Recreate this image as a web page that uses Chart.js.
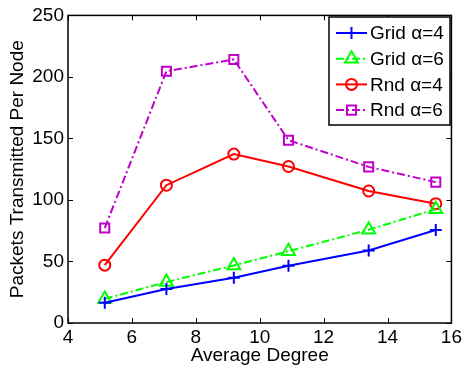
<!DOCTYPE html>
<html>
<head>
<meta charset="utf-8">
<script src="https://cdn.jsdelivr.net/npm/chart.js@4/dist/chart.umd.min.js"></script>
<style>
  html, body { margin: 0; padding: 0; background: #fff; }
  #wrap { width: 465px; height: 370px; }
</style>
</head>
<body>
<div id="wrap"><canvas id="c"></canvas></div>
<script>
// values
const avgDegree = [5.15, 7.08, 9.19, 10.9, 13.41, 15.51];
const gridA4 = [16.4, 27.7, 36.8, 46.5, 58.9, 75.6];
const gridA6 = [19.6, 33.3, 46.8, 58.3, 75.8, 92.5];
const rndA4 = [47, 112, 137.3, 127.2, 107.3, 97];
const rndA6 = [77.2, 204.6, 214.2, 148.6, 126.9, 114.5];
const seriesLabels = ["Grid \u03b1=4", "Grid \u03b1=6", "Rnd \u03b1=4", "Rnd \u03b1=6"];
const xTicks = [4, 6, 8, 10, 12, 14, 16];
const yTicks = [0, 50, 100, 150, 200, 250];

const FONT = "'Liberation Sans', Arial, sans-serif";
const FS = 19;
const DASHDOT = [8, 3, 2, 3];

const toPts = (ys) => ys.map((y, i) => ({ x: avgDegree[i], y }));

function ds(label, ys, color, style, radius, dash) {
  return {
    label,
    data: toPts(ys),
    borderColor: color,
    borderWidth: 2,
    borderDash: dash,
    pointStyle: style,
    pointRadius: radius,
    pointBorderColor: color,
    pointBackgroundColor: "rgba(0,0,0,0)",
    pointBorderWidth: 2,
    tension: 0,
    fill: false,
  };
}

// MATLAB-style box, inward ticks and the legend inside the axes
const matlabFrame = {
  id: "matlabFrame",
  afterDatasetsDraw(chart) {
    const { ctx, chartArea: a, scales } = chart;
    ctx.save();
    ctx.strokeStyle = "#000";
    ctx.lineWidth = 1.5;
    ctx.setLineDash([]);
    ctx.strokeRect(a.left, a.top, a.right - a.left, a.bottom - a.top);

    ctx.lineWidth = 1;
    ctx.beginPath();
    for (const t of xTicks) {
      const x = Math.round(scales.x.getPixelForValue(t)) + 0.5;
      ctx.moveTo(x, a.bottom); ctx.lineTo(x, a.bottom - 5);
      ctx.moveTo(x, a.top); ctx.lineTo(x, a.top + 5);
    }
    for (const t of yTicks) {
      const y = Math.round(scales.y.getPixelForValue(t)) + 0.5;
      ctx.moveTo(a.left, y); ctx.lineTo(a.left + 5, y);
      ctx.moveTo(a.right, y); ctx.lineTo(a.right - 5, y);
    }
    ctx.stroke();

    // legend
    const bx = 329, by = 17, bw = 121, bh = 108;
    ctx.fillStyle = "#fff";
    ctx.fillRect(bx, by, bw, bh);
    ctx.lineWidth = 1.5;
    ctx.strokeRect(bx, by, bw, bh);
    ctx.font = FS + "px " + FONT;
    ctx.textBaseline = "middle";
    chart.data.datasets.forEach((d, i) => {
      const y = 33 + i * 25.7;
      ctx.strokeStyle = d.borderColor;
      ctx.lineWidth = 2;
      ctx.setLineDash(d.borderDash || []);
      ctx.beginPath();
      ctx.moveTo(336, y); ctx.lineTo(367, y);
      ctx.stroke();
      ctx.setLineDash([]);
      ctx.fillStyle = "rgba(0,0,0,0)";
      Chart.helpers.drawPoint(ctx, {
        pointStyle: d.pointStyle, radius: d.pointRadius, rotation: 0, borderWidth: 2,
      }, 351.5, y);
      ctx.fillStyle = "#000";
      ctx.fillText(d.label, 370, y + 1);
    });
    ctx.restore();
  },
};

new Chart(document.getElementById("c"), {
  type: "line",
  data: {
    datasets: [
      ds(seriesLabels[0], gridA4, "#0000ff", "cross", 6, []),
      ds(seriesLabels[1], gridA6, "#00ff00", "triangle", 7.5, DASHDOT),
      ds(seriesLabels[2], rndA4, "#ff0000", "circle", 5.5, []),
      ds(seriesLabels[3], rndA6, "#c000c8", "rect", 6.4, DASHDOT),
    ],
  },
  options: {
    responsive: true,
    maintainAspectRatio: false,
    animation: false,
    layout: { padding: { left: 0, right: 11, top: 13, bottom: 0 } },
    plugins: { legend: { display: false }, tooltip: { enabled: false } },
    scales: {
      x: {
        type: "linear",
        min: 4, max: 16,
        afterBuildTicks: (s) => { s.ticks = xTicks.map((v) => ({ value: v })); },
        afterFit: (s) => { s.height = 47; },
        grid: { display: false, drawTicks: false },
        border: { display: false },
        ticks: { color: "#000", font: { family: FONT, size: FS }, padding: 3, maxRotation: 0 },
        title: {
          display: true, text: "Average Degree", color: "#000",
          font: { family: FONT, size: FS }, padding: { top: 0, bottom: 3 },
        },
      },
      y: {
        min: 0, max: 250,
        afterBuildTicks: (s) => { s.ticks = yTicks.map((v) => ({ value: v })); },
        afterFit: (s) => { s.width = 68; },
        grid: { display: false, drawTicks: false },
        border: { display: false },
        ticks: { color: "#000", font: { family: FONT, size: FS }, padding: 4 },
        title: {
          display: true, text: "Packets Transmitted Per Node", color: "#000",
          font: { family: FONT, size: FS }, padding: { top: 6, bottom: 0 },
        },
      },
    },
  },
  plugins: [matlabFrame],
});
</script>
</body>
</html>
